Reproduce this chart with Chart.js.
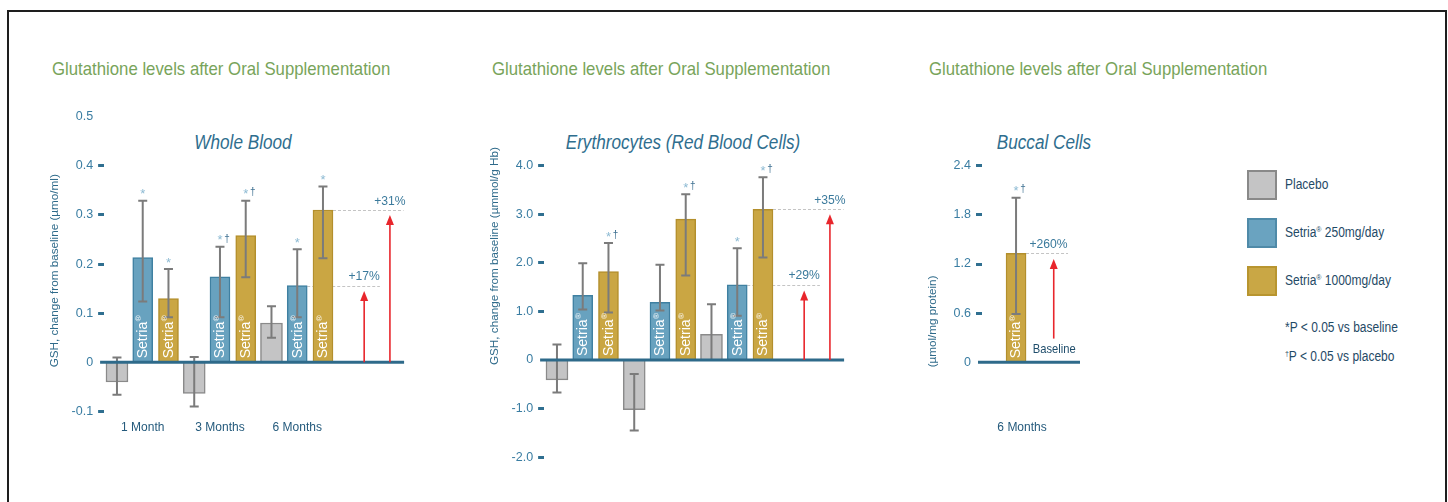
<!DOCTYPE html>
<html>
<head>
<meta charset="utf-8">
<title>Glutathione levels after Oral Supplementation</title>
<script src="https://cdn.jsdelivr.net/npm/chart.js@4.4.1/dist/chart.umd.min.js"></script>
<style>
  html, body { margin: 0; padding: 0; background: #fff; }
  body { position: relative; width: 1448px; height: 502px; overflow: hidden;
         font-family: 'Liberation Sans', Arial, sans-serif; }
  .frame { position: absolute; left: 7px; top: 10px; width: 1440px; height: 540px;
           border: 2px solid #1e1e1e; box-sizing: border-box; }
  .head { position: absolute; top: 57px; font-size: 18.5px; line-height: 24px; color: #78a45a; white-space: nowrap;
          transform: scaleX(0.906); transform-origin: 0 50%; }
  .sub { position: absolute; top: 129px; width: 320px; text-align: center; font-size: 19.5px;
         line-height: 26px; font-style: italic; color: #2f6e8e; transform: scaleX(0.88); }
  canvas { position: absolute; top: 100px; }
  .legend { position: absolute; left: 1247px; top: 170px; color: #1f4a66; font-size: 13.8px; }
  .item { position: absolute; left: 0; width: 200px; height: 30px; }
  .box { position: absolute; left: 0; top: 0; width: 30px; height: 30px; box-sizing: border-box; border: 2px solid; }
  .lbl { position: absolute; left: 38px; top: 0; line-height: 30px; white-space: nowrap;
         transform: scaleX(0.87); transform-origin: 0 50%; }
  .note { position: absolute; left: 38px; line-height: 16px; white-space: nowrap;
          transform: scaleX(0.87); transform-origin: 0 50%; }
  sup { font-size: 8px; vertical-align: 5px; line-height: 0; }
</style>
</head>
<body>
<div class="frame"></div>

<div class="head" style="left:52px">Glutathione levels after Oral Supplementation</div>
<div class="head" style="left:492px">Glutathione levels after Oral Supplementation</div>
<div class="head" style="left:929px">Glutathione levels after Oral Supplementation</div>

<div class="sub" style="left:83px">Whole Blood</div>
<div class="sub" style="left:523px">Erythrocytes (Red Blood Cells)</div>
<div class="sub" style="left:884px">Buccal Cells</div>

<canvas id="wholeBlood" width="400" height="380" style="left:20px"></canvas>
<canvas id="erythrocytes" width="400" height="380" style="left:460px"></canvas>
<canvas id="buccal" width="180" height="380" style="left:900px"></canvas>

<div class="legend">
  <div class="item" style="top:0"><div class="box" style="background:#c4c4c5;border-color:#898989"></div><div class="lbl">Placebo</div></div>
  <div class="item" style="top:48px"><div class="box" style="background:#6aa3c0;border-color:#4f8aa8"></div><div class="lbl">Setria<sup>®</sup> 250mg/day</div></div>
  <div class="item" style="top:96px"><div class="box" style="background:#c9a745;border-color:#b8952f"></div><div class="lbl">Setria<sup>®</sup> 1000mg/day</div></div>
  <div class="note" style="top:150px">*P &lt; 0.05 vs baseline</div>
  <div class="note" style="top:179px"><sup>†</sup>P &lt; 0.05 vs placebo</div>
</div>

<script>
// ---------- DATA ----------
const timepoints = ['1 Month', '3 Months', '6 Months'];
const groupNames = ['Placebo', 'Setria® 250mg/day', 'Setria® 1000mg/day'];

// Whole blood: GSH change from baseline (µmol/ml)
const wbPlacebo   = [-0.040, -0.063, 0.080];
const wbPlaceboLo = [-0.066, -0.090, 0.050];
const wbPlaceboHi = [0.010, 0.011, 0.114];
const wb250       = [0.213, 0.174, 0.156];
const wb250Lo     = [0.124, 0.092, 0.092];
const wb250Hi     = [0.329, 0.235, 0.230];
const wb1000      = [0.130, 0.258, 0.310];
const wb1000Lo    = [0.092, 0.173, 0.212];
const wb1000Hi    = [0.190, 0.329, 0.358];
const wbSig250    = ['*', '*†', '*'];
const wbSig1000   = ['*', '*†', '*'];
const wbGainLabels = ['+17%', '+31%'];
const wbGainLevels = [0.156, 0.310];
const wbArrowTips  = [0.145, 0.300];
const wbTicks      = [-0.1, 0, 0.1, 0.2, 0.3, 0.4, 0.5];
const wbTickLabels = ['-0.1', '0', '0.1', '0.2', '0.3', '0.4', '0.5'];

// Erythrocytes: GSH change from baseline (µmol/g Hb)
const erPlacebo   = [-0.41, -1.02, 0.53];
const erPlaceboLo = [-0.67, -1.45, 0.00];
const erPlaceboHi = [0.32, -0.29, 1.15];
const er250       = [1.33, 1.19, 1.55];
const er250Lo     = [1.04, 1.02, 0.91];
const er250Hi     = [1.99, 1.96, 2.30];
const er1000      = [1.82, 2.90, 3.10];
const er1000Lo    = [0.98, 1.74, 2.11];
const er1000Hi    = [2.41, 3.41, 3.76];
const erSig250    = ['', '', '*'];
const erSig1000   = ['*†', '*†', '*†'];
const erGainLabels = ['+29%', '+35%'];
const erGainLevels = [1.55, 3.10];
const erArrowTips  = [1.43, 3.00];
const erTicks      = [-2, -1, 0, 1, 2, 3, 4];
const erTickLabels = ['-2.0', '-1.0', '0', '1.0', '2.0', '3.0', '4.0'];

// Buccal cells (µmol/mg protein), 1000mg/day only
const bcTimepoints = ['6 Months'];
const bc1000    = [1.33];
const bc1000Lo  = [0.59];
const bc1000Hi  = [2.01];
const bcSig1000 = ['*†'];
const bcGainLabels = ['+260%'];
const bcGainLevels = [1.33];
const bcArrowTips  = [1.26];
const bcArrowBase  = 0.29;
const bcTicks      = [0, 0.6, 1.2, 1.8, 2.4];
const bcTickLabels = ['0', '0.6', '1.2', '1.8', '2.4'];

// ---------- STYLE ----------
const FONT = "'Liberation Sans', Arial, sans-serif";
Chart.defaults.font.family = FONT;
Chart.defaults.animation = false;

const FILL = ['#c4c4c5', '#68a2bf', '#caa643'];
const EDGE = ['#8a8a8a', '#3f80a1', '#b38f2c'];
const DARK = '#2e6a8a';

// put each timepoint's value into its own slot on the category axis
function spread(values, slotOf, n) {
  const out = new Array(n).fill(null);
  values.forEach((v, t) => { out[slotOf(t)] = v; });
  return out;
}

function makeSet(g, vals, lo, hi, sig, slotOf, n) {
  return {
    label: groupNames[g],
    data: spread(vals, slotOf, n),
    lo: spread(lo, slotOf, n),
    hi: spread(hi, slotOf, n),
    sig: spread(sig, slotOf, n),
    setria: g > 0,
    backgroundColor: FILL[g],
    borderColor: EDGE[g],
    borderWidth: 1.5,
    barThickness: g === 0 ? 22 : 20,
    grouped: false
  };
}

// condensed text helper (the original uses a narrow face)
function narrowText(ctx, text, x, y, sx) {
  ctx.save();
  ctx.translate(x, y);
  ctx.scale(sx, 1);
  ctx.fillText(text, 0, 0);
  ctx.restore();
}

// error bars, zero line, markers, arrows and notes
const extras = {
  id: 'extras',
  beforeDatasetsDraw(chart, args, o) {
    const x = chart.scales.x, y = chart.scales.y, ctx = chart.ctx;
    ctx.save();
    ctx.strokeStyle = '#c4c4c4';
    ctx.lineWidth = 1;
    ctx.setLineDash([3, 2]);
    o.gains.forEach(g => {
      const py = Math.round(y.getPixelForValue(g.level)) + 0.5;
      ctx.beginPath();
      ctx.moveTo(x.getPixelForValue(g.slot) - 10, py);
      ctx.lineTo(x.getPixelForValue(g.lineEnd), py);
      ctx.stroke();
    });
    ctx.restore();
  },
  afterDatasetsDraw(chart, args, o) {
    const x = chart.scales.x, y = chart.scales.y, ctx = chart.ctx;
    const y0 = y.getPixelForValue(0);
    ctx.save();

    // error bars
    ctx.strokeStyle = '#7b7b7b';
    ctx.lineWidth = 2;
    chart.data.datasets.forEach((ds, i) => {
      const meta = chart.getDatasetMeta(i);
      ds.data.forEach((v, j) => {
        if (v === null) return;
        const px = meta.data[j].x;
        const top = y.getPixelForValue(ds.hi[j]);
        const bot = y.getPixelForValue(ds.lo[j]);
        ctx.beginPath();
        ctx.moveTo(px, top); ctx.lineTo(px, bot);
        ctx.moveTo(px - 4.5, top); ctx.lineTo(px + 4.5, top);
        ctx.moveTo(px - 4.5, bot); ctx.lineTo(px + 4.5, bot);
        ctx.stroke();
      });
    });

    // zero line
    ctx.strokeStyle = DARK;
    ctx.lineWidth = 3;
    ctx.beginPath();
    ctx.moveTo(chart.chartArea.left - 4, y0);
    ctx.lineTo(x.getPixelForValue(o.zeroEnd), y0);
    ctx.stroke();

    // Setria labels inside bars + significance marks
    chart.data.datasets.forEach((ds, i) => {
      const meta = chart.getDatasetMeta(i);
      ds.data.forEach((v, j) => {
        if (v === null) return;
        const px = meta.data[j].x;
        if (ds.setria && v > 0) {
          ctx.save();
          ctx.translate(px + 0.5, y0 - 4);
          ctx.rotate(-Math.PI / 2);
          ctx.fillStyle = '#ffffff';
          ctx.textBaseline = 'middle';
          ctx.textAlign = 'left';
          ctx.font = '14px ' + FONT;
          ctx.fillText('Setria', 0, 0);
          const w = ctx.measureText('Setria').width;
          ctx.font = '8px ' + FONT;
          ctx.fillText('®', w + 0.5, -4);
          ctx.restore();
        }
        const s = ds.sig[j];
        if (s) {
          const ty = y.getPixelForValue(ds.hi[j]) - 7;
          ctx.textAlign = 'center';
          ctx.textBaseline = 'middle';
          ctx.font = '13px ' + FONT;
          ctx.fillStyle = '#8dbad3';
          ctx.fillText('*', px, ty + 1);
          if (s.includes('†')) {
            ctx.font = '10px ' + FONT;
            ctx.fillStyle = '#3f7192';
            ctx.fillText('†', px + 7, ty - 1);
          }
        }
      });
    });

    // red arrows and percentage labels
    o.gains.forEach(g => {
      const ax = x.getPixelForValue(g.arrowAt);
      const base = y.getPixelForValue(g.base);
      const tip = y.getPixelForValue(g.tip);
      ctx.strokeStyle = '#e8262c';
      ctx.fillStyle = '#e8262c';
      ctx.lineWidth = 1.6;
      ctx.beginPath();
      ctx.moveTo(ax, base); ctx.lineTo(ax, tip + 8);
      ctx.stroke();
      ctx.beginPath();
      ctx.moveTo(ax, tip); ctx.lineTo(ax - 4, tip + 10); ctx.lineTo(ax + 4, tip + 10);
      ctx.closePath();
      ctx.fill();

      ctx.fillStyle = '#3b7a9c';
      ctx.font = '13.5px ' + FONT;
      ctx.textAlign = 'center';
      ctx.textBaseline = 'middle';
      narrowText(ctx, g.label, x.getPixelForValue(g.labelAt), y.getPixelForValue(g.level) - 9, 0.9);
    });

    // extra notes (e.g. Baseline)
    (o.notes || []).forEach(n => {
      ctx.fillStyle = '#1f4d6b';
      ctx.font = '13px ' + FONT;
      ctx.textAlign = 'center';
      ctx.textBaseline = 'middle';
      narrowText(ctx, n.text, x.getPixelForValue(n.at), y.getPixelForValue(n.value), 0.86);
    });

    // y axis title, ending near the zero line
    ctx.save();
    ctx.translate(chart.chartArea.left - 49, y0 + 5);
    ctx.rotate(-Math.PI / 2);
    ctx.fillStyle = DARK;
    ctx.font = '11.7px ' + FONT;
    ctx.textAlign = 'left';
    ctx.textBaseline = 'middle';
    ctx.fillText(o.yTitle, 0, 0);
    ctx.restore();

    ctx.restore();
  }
};

function drawPanel(id, p) {
  new Chart(document.getElementById(id), {
    type: 'bar',
    data: { labels: p.labels, datasets: p.datasets },
    options: {
      responsive: false,
      layout: { padding: { top: p.padTop, right: p.padRight, left: 0, bottom: 0 } },
      plugins: { legend: { display: false }, tooltip: { enabled: false }, extras: p.extras },
      scales: {
        x: {
          grid: { display: false, drawTicks: false },
          border: { display: false },
          ticks: { autoSkip: false, maxRotation: 0, padding: p.labelPad, labelOffset: p.labelShift || 0,
                   color: '#245a7c', font: { size: 12 } },
          afterFit: s => { s.height = p.xHeight; }
        },
        y: {
          min: p.min,
          max: p.ticks[p.ticks.length - 1],
          afterBuildTicks: s => { s.ticks = p.ticks.map(v => ({ value: v })); },
          afterFit: s => { s.width = p.yWidth; },
          grid: {
            drawOnChartArea: false,
            drawTicks: true,
            tickLength: 6,
            tickWidth: 3,
            tickColor: c => (c.tick && p.noDash.includes(c.tick.value)) ? 'rgba(0,0,0,0)' : '#2f6f90'
          },
          border: { display: false },
          ticks: { padding: 5, color: '#3a7da2', font: { size: 12.5 }, callback: (v, i) => p.tickLabels[i] }
        }
      }
    },
    plugins: [extras]
  });
}

// three bars per timepoint, then a gap and two arrow slots
const slotLabels = [];
timepoints.forEach(t => slotLabels.push('', t, ''));
slotLabels.push('', '', '');
const N = slotLabels.length;

function gainsFor(labels, levels, tips) {
  return labels.map((l, k) => ({
    label: l, level: levels[k], tip: tips[k], base: 0,
    slot: 7 + k, arrowAt: 9.6 + k, labelAt: 9.6 + k, lineEnd: [10.21, 11.13][k]
  }));
}

drawPanel('wholeBlood', {
  labels: slotLabels,
  datasets: [
    makeSet(0, wbPlacebo, wbPlaceboLo, wbPlaceboHi, ['', '', ''], t => t * 3, N),
    makeSet(1, wb250, wb250Lo, wb250Hi, wbSig250, t => t * 3 + 1, N),
    makeSet(2, wb1000, wb1000Lo, wb1000Hi, wbSig1000, t => t * 3 + 2, N)
  ],
  min: wbTicks[0], ticks: wbTicks, tickLabels: wbTickLabels, noDash: [0, 0.5],
  padTop: 16.6, padRight: 6.9, yWidth: 84.1, xHeight: 68.5, labelPad: 8.5,
  extras: { yTitle: 'GSH, change from baseline (µmo/ml)', zeroEnd: 11.15,
            gains: gainsFor(wbGainLabels, wbGainLevels, wbArrowTips) }
});

drawPanel('erythrocytes', {
  labels: slotLabels,
  datasets: [
    makeSet(0, erPlacebo, erPlaceboLo, erPlaceboHi, ['', '', ''], t => t * 3, N),
    makeSet(1, er250, er250Lo, er250Hi, erSig250, t => t * 3 + 1, N),
    makeSet(2, er1000, er1000Lo, er1000Hi, erSig1000, t => t * 3 + 2, N)
  ],
  min: erTicks[0], ticks: erTicks, tickLabels: erTickLabels, noDash: [0],
  padTop: 65.7, padRight: 6.9, yWidth: 84.1, xHeight: 22.8, labelPad: -37.3,
  extras: { yTitle: 'GSH, change from baseline (µmmol/g Hb)', zeroEnd: 11.15,
            gains: gainsFor(erGainLabels, erGainLevels, erArrowTips) }
});

drawPanel('buccal', {
  labels: ['', bcTimepoints[0], '', ''],
  datasets: [makeSet(2, bc1000, bc1000Lo, bc1000Hi, bcSig1000, t => 1, 4)],
  min: -0.6, ticks: bcTicks, tickLabels: bcTickLabels, noDash: [0],
  padTop: 65.7, padRight: 7.2, yWidth: 82, xHeight: 68.5, labelPad: 8.5, labelShift: 6,
  extras: {
    yTitle: '(µmol/mg protein)', zeroEnd: 3.85,
    gains: [{ label: bcGainLabels[0], level: bcGainLevels[0], tip: bcArrowTips[0], base: bcArrowBase,
              slot: 1, arrowAt: 2.66, labelAt: 2.43, lineEnd: 3.29 }],
    notes: [{ text: 'Baseline', at: 2.68, value: 0.16 }]
  }
});
</script>
</body>
</html>
